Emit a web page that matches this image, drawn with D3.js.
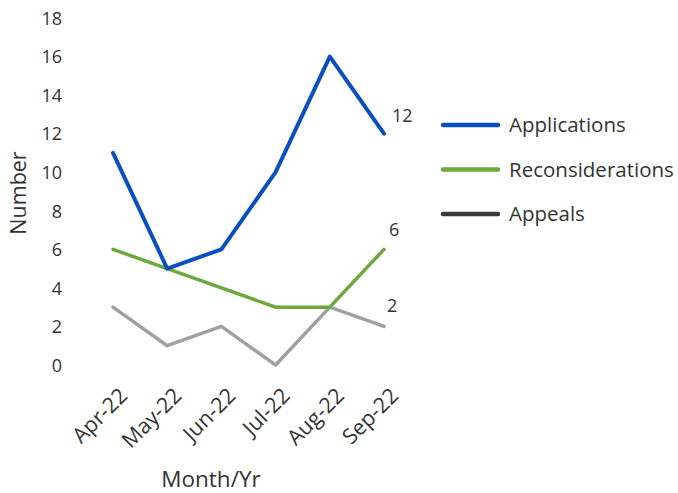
<!DOCTYPE html>
<html><head><meta charset="utf-8">
<script src="https://cdn.jsdelivr.net/npm/d3@7"></script>
<style>body{margin:0;background:#fff}svg{display:block}text{font-family:"Open Sans","Noto Sans",sans-serif;fill:#333}</style>
</head><body><svg id="c" width="678" height="493"></svg>
<script>
const months = ["Apr-22","May-22","Jun-22","Jul-22","Aug-22","Sep-22"];
const applications = [11,5,6,10,16,12];
const reconsiderations = [6,5,4,3,3,6];
const appeals = [3,1,2,0,3,2];
const yTicks = [0,2,4,6,8,10,12,14,16,18];

const series = [
  {name:"Applications", values:applications, color:"#0a4fbf", legend:"#0a4fbf", w:4},
  {name:"Reconsiderations", values:reconsiderations, color:"#6da83a", legend:"#6da83a", w:3.5},
  {name:"Appeals", values:appeals, color:"#a0a0a0", legend:"#3a3a3a", w:3.5}
];

const svg = d3.select("#c");
const x = d3.scalePoint().domain(months).range([113,384]);
const y = d3.scaleLinear().domain([0,18]).range([365,18]);

const yAxis = svg.append("g").attr("transform","translate(62,0)")
  .call(d3.axisLeft(y).tickValues(yTicks).tickSize(0).tickPadding(0));
yAxis.select(".domain").remove();
yAxis.selectAll("text").attr("font-size",18).style("font-family",'"Open Sans",sans-serif').attr("fill","#333").attr("dy","0.35em");

const xAxis = svg.append("g").attr("transform","translate(0,388)")
  .call(d3.axisBottom(x).tickSize(0).tickPadding(0));
xAxis.select(".domain").remove();
xAxis.selectAll("text").attr("font-size",21.5).style("font-family",'"Open Sans",sans-serif').attr("fill","#333")
  .attr("text-anchor","end").attr("dy","0.6em").attr("dx","0")
  .attr("transform","translate(6,0) rotate(-45)");

svg.append("text").attr("transform","translate(26,193) rotate(-90)")
  .attr("text-anchor","middle").attr("font-size",21.5).text("Number");
svg.append("text").attr("x",211).attr("y",487)
  .attr("text-anchor","middle").attr("font-size",22.5).text("Month/Yr");

const line = d3.line().x((d,i)=>x(months[i])).y(d=>y(d));
series.slice().reverse().forEach(s=>{
  svg.append("path").datum(s.values).attr("d",line)
    .attr("fill","none").attr("stroke",s.color).attr("stroke-width",s.w)
    .attr("stroke-linejoin","round").attr("stroke-linecap","round");
});

// end labels
const lbl = [{v:applications[5],dx:8,dy:-18},{v:reconsiderations[5],dx:5,dy:-20},{v:appeals[5],dx:3,dy:-21}];
lbl.forEach(l=>{
  svg.append("text").attr("x",x(months[5])+l.dx).attr("y",y(l.v)+l.dy)
    .attr("font-size",18).attr("dy","0.35em").text(l.v);
});

// legend
series.forEach((s,i)=>{
  const ly = 125 + i*44.5;
  svg.append("line").attr("x1",443).attr("x2",498).attr("y1",ly).attr("y2",ly)
    .attr("stroke",s.legend).attr("stroke-width",4.5).attr("stroke-linecap","round");
  svg.append("text").attr("x",509).attr("y",ly).attr("dy","0.35em")
    .attr("font-size",20.5).text(s.name);
});
</script></body></html>
